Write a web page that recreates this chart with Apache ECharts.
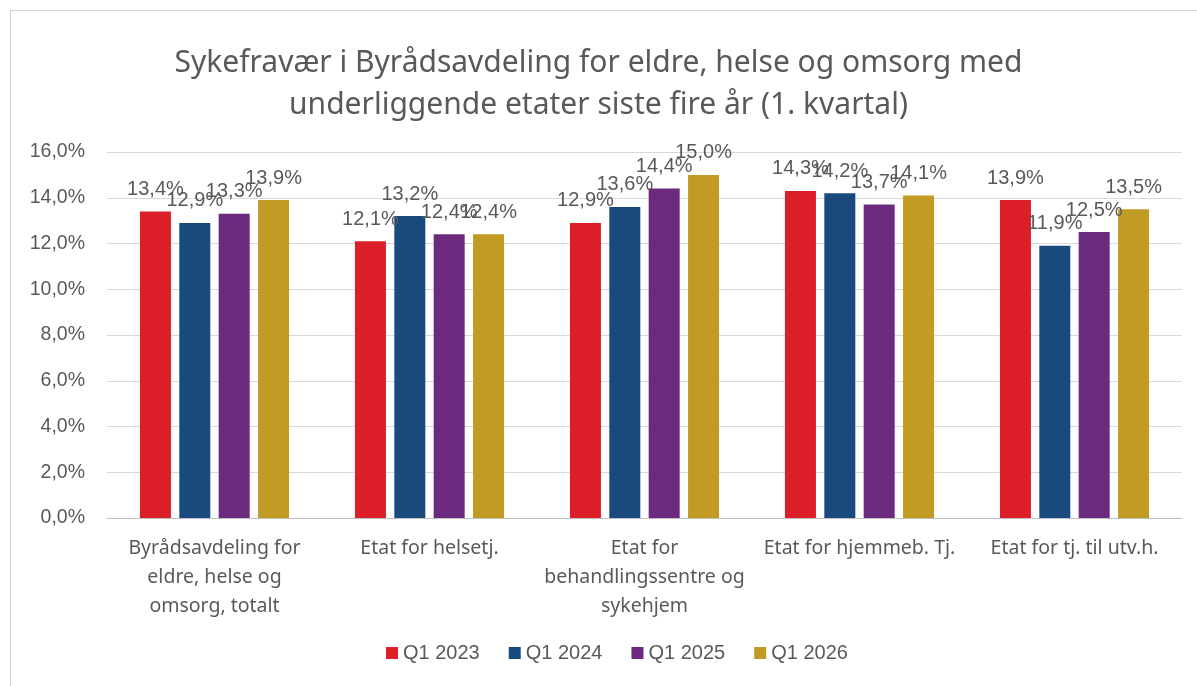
<!DOCTYPE html>
<html>
<head>
<meta charset="utf-8">
<script src="https://cdn.jsdelivr.net/npm/echarts@6/dist/echarts.min.js"></script>
<style>
  html, body { margin: 0; padding: 0; background: #fff; }
  #wrap { position: relative; width: 1197px; height: 686px; overflow: hidden; }
  #frame { position: absolute; left: 10px; top: 10px; width: 1300px; height: 800px; border: 1px solid #d4d4d4; box-sizing: border-box; }
  #chart { position: absolute; left: 0; top: 0; width: 1197px; height: 686px; }
</style>
</head>
<body>
<div id="wrap">
  <div id="frame"></div>
  <div id="chart"></div>
</div>
<script>
var categories = [
  'Byrådsavdeling for\neldre, helse og\nomsorg, totalt',
  'Etat for helsetj.',
  'Etat for\nbehandlingssentre og\nsykehjem',
  'Etat for hjemmeb. Tj.',
  'Etat for tj. til utv.h.'
];
var seriesNames = ['Q1 2023', 'Q1 2024', 'Q1 2025', 'Q1 2026'];
var q2023 = [13.4, 12.1, 12.9, 14.3, 13.9];
var q2024 = [12.9, 13.2, 13.6, 14.2, 11.9];
var q2025 = [13.3, 12.4, 14.4, 13.7, 12.5];
var q2026 = [13.9, 12.4, 15.0, 14.1, 13.5];
var colors = ['#dc1e28', '#184a7d', '#6c2a7e', '#c19b23'];

var textGray = '#595959';
function pct(v) { return v.toFixed(1).replace('.', ',') + '%'; }

var chart = echarts.init(document.getElementById('chart'));
var values = [q2023, q2024, q2025, q2026];
var series = [];
for (var i = 0; i < seriesNames.length; i++) {
  series.push({
    name: seriesNames[i],
    type: 'bar',
    data: values[i],
    barWidth: 31,
    barGap: '27%',
    itemStyle: { color: colors[i] },
    label: {
      show: true,
      position: 'top',
      distance: 12,
      color: textGray,
      fontSize: 20,
      fontFamily: 'Liberation Sans, Arial, sans-serif',
      formatter: function (p) { return pct(p.value); }
    }
  });
}

chart.setOption({
  animation: false,
  color: colors,
  title: {
    text: 'Sykefravær i Byrådsavdeling for eldre, helse og omsorg med\nunderliggende etater siste fire år (1. kvartal)',
    left: 'center',
    top: 37,
    textStyle: {
      color: textGray,
      fontSize: 30,
      fontWeight: 'normal',
      lineHeight: 42,
      fontFamily: 'Noto Sans, sans-serif'
    }
  },
  legend: {
    data: seriesNames,
    bottom: 18,
    left: 381,
    itemWidth: 12,
    itemHeight: 12,
    itemGap: 29,
    icon: 'rect',
    textStyle: { color: textGray, fontSize: 20, fontFamily: 'Liberation Sans, Arial, sans-serif' }
  },
  grid: { left: 107, right: 15, top: 152, bottom: 168, containLabel: false },
  xAxis: {
    type: 'category',
    data: categories,
    axisTick: { show: false },
    axisLine: { lineStyle: { color: '#bfbfbf', width: 1 } },
    axisLabel: {
      color: textGray,
      fontSize: 19.5,
      lineHeight: 29,
      margin: 16,
      interval: 0,
      fontFamily: 'Noto Sans, sans-serif'
    }
  },
  yAxis: {
    type: 'value',
    min: 0,
    max: 16,
    interval: 2,
    axisLine: { show: false },
    axisTick: { show: false },
    splitLine: { lineStyle: { color: '#d9d9d9', width: 1 } },
    axisLabel: {
      color: textGray,
      fontSize: 19.5,
      margin: 22,
      fontFamily: 'Liberation Sans, Arial, sans-serif',
      formatter: function (v) { return pct(v); }
    }
  },
  series: series
});
</script>
</body>
</html>
